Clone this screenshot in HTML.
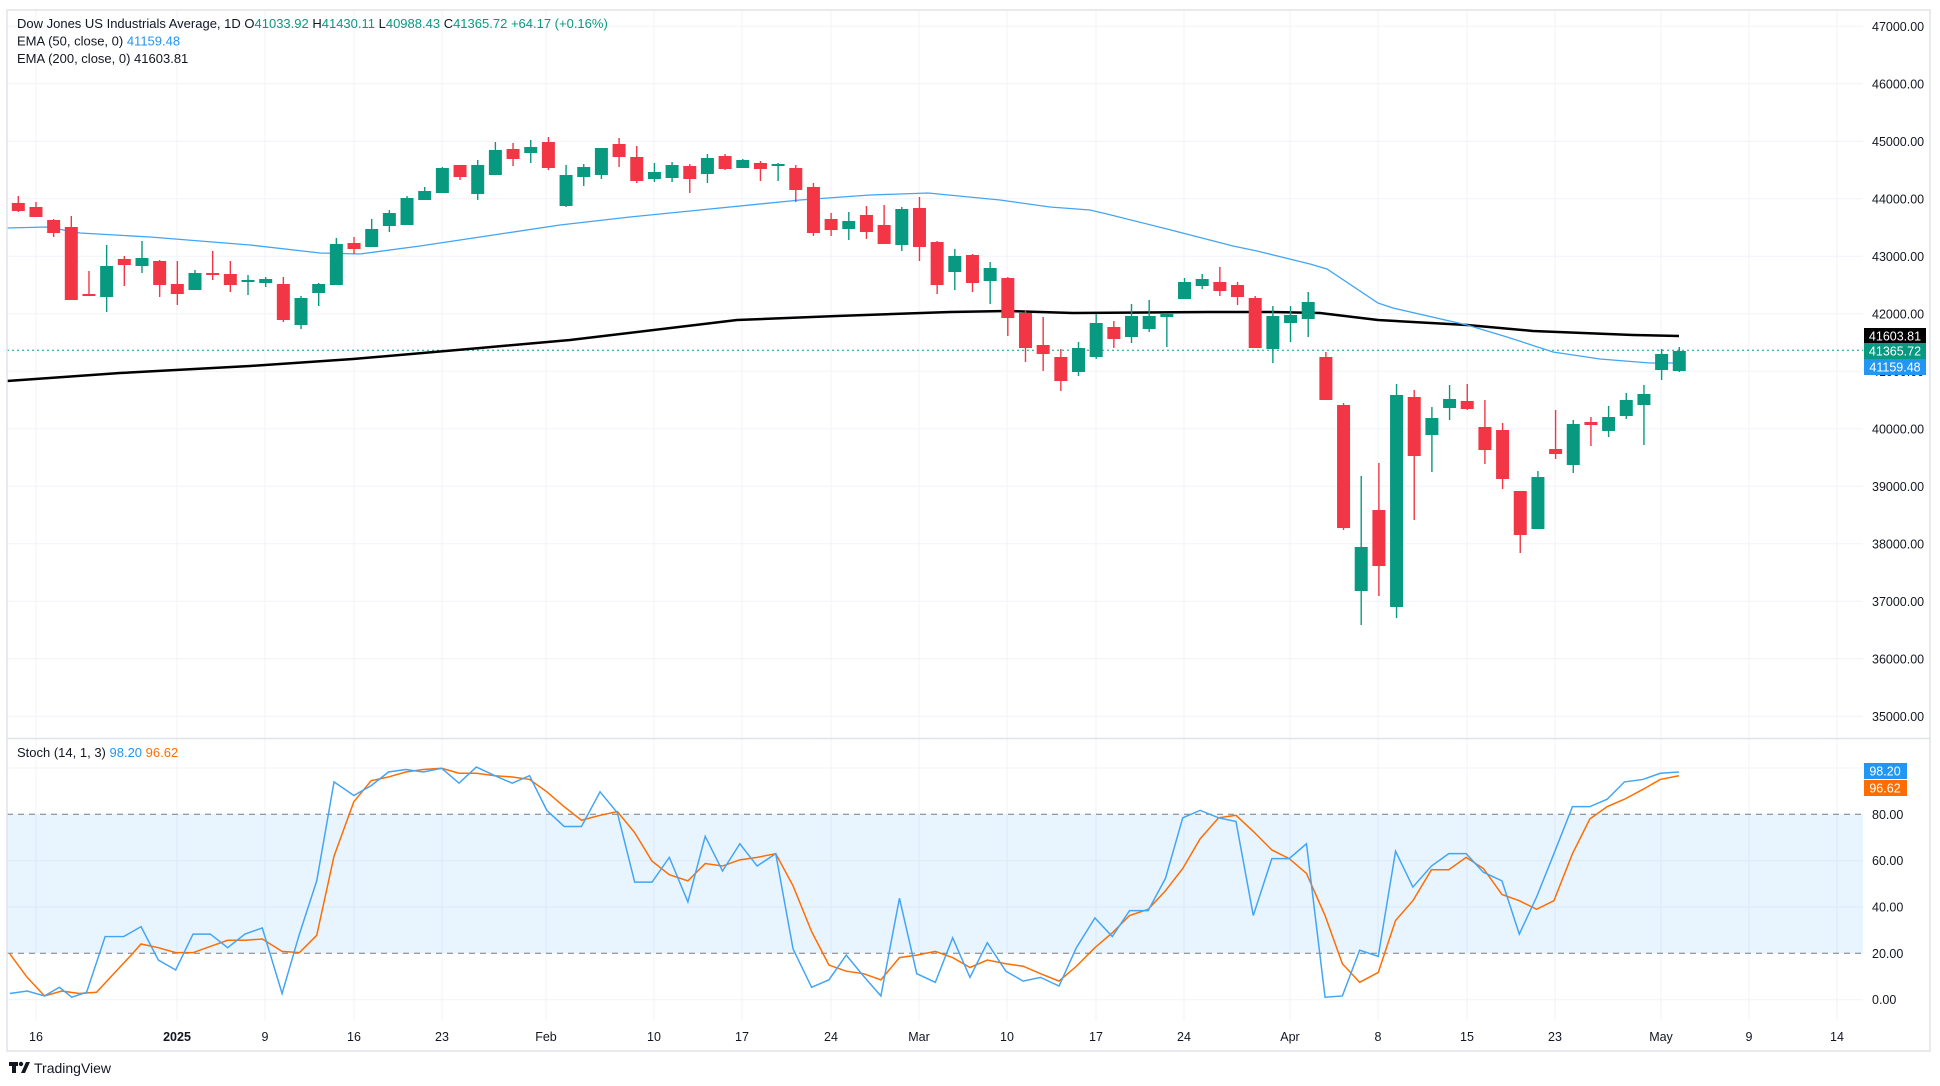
<!DOCTYPE html>
<html><head><meta charset="utf-8"><style>
html,body{margin:0;padding:0;background:#fff;}
svg{display:block;font-family:"Liberation Sans",sans-serif;}
</style></head><body>
<svg id="s" width="1940" height="1086" viewBox="0 0 1940 1086" xmlns="http://www.w3.org/2000/svg">
<rect width="1940" height="1086" fill="#fff"/>
<g id="grid"></g>
<rect x="7" y="814.3" width="1856" height="139" fill="#2196f3" fill-opacity="0.1"/>
<line x1="7" y1="814.3" x2="1863" y2="814.3" stroke="#787b86" stroke-dasharray="6,5" stroke-width="1"/>
<line x1="7" y1="953.3" x2="1863" y2="953.3" stroke="#787b86" stroke-dasharray="6,5" stroke-width="1"/>
<line x1="7" y1="350.3" x2="1863" y2="350.3" stroke="#089981" stroke-dasharray="2,3" stroke-width="1"/>
<polyline fill="none" stroke="#000" stroke-width="2.5" points="7,381 120,373 250,366 353,359 480,348 570,340 737,320 837,316 950,312 1007,311 1073,313 1207,312 1273,312 1320,313 1378,320 1467,325 1533,331 1633,335 1679,336"/>
<polyline fill="none" stroke="#42a5f5" stroke-width="1.3" points="7,228 47,227 80,233 150,237 250,245 320,253 360,254 420,246 480,237 560,225 630,217 700,210 800,200 870,195 928,193 1000,200 1050,207 1090,210 1107,214 1167,229 1233,246 1257,251 1310,264 1327,269 1378,303 1393,308 1467,325 1507,337 1553,352 1600,359 1650,363 1673,363"/>
<g id="candles"></g>
<g id="stoch" transform="scale(1.2372)"></g>
<g fill="none" stroke="#e0e3eb" stroke-width="1.5">
<rect x="7" y="10" width="1923" height="1041"/>
<line x1="7" y1="738.5" x2="1930" y2="738.5"/>
</g>
<g font-size="13" fill="#131722">
<text x="17" y="28">Dow Jones US Industrials Average, 1D  O<tspan fill="#089981">41033.92</tspan>  H<tspan fill="#089981">41430.11</tspan>  L<tspan fill="#089981">40988.43</tspan>  C<tspan fill="#089981">41365.72</tspan>  <tspan fill="#089981">+64.17 (+0.16%)</tspan></text>
<text x="17" y="45.5">EMA (50, close, 0)  <tspan fill="#2196f3">41159.48</tspan></text>
<text x="17" y="63">EMA (200, close, 0)  41603.81</text>
<text x="17" y="757">Stoch (14, 1, 3)  <tspan fill="#2196f3">98.20</tspan>  <tspan fill="#ff6d00">96.62</tspan></text>
</g>
<g id="axis" font-size="12.5" fill="#131722"></g>
<g font-size="12.5" fill="#fff">
<rect x="1864" y="328" width="62" height="16" fill="#000"/><text x="1895" y="340.5" text-anchor="middle">41603.81</text>
<rect x="1864" y="343" width="62" height="16" fill="#089981"/><text x="1895" y="355.5" text-anchor="middle">41365.72</text>
<rect x="1864" y="359" width="62" height="16" fill="#2196f3"/><text x="1895" y="371.5" text-anchor="middle">41159.48</text>
<rect x="1864" y="763" width="43" height="16" fill="#2196f3"/><text x="1885" y="775.5" text-anchor="middle">98.20</text>
<rect x="1864" y="780" width="43" height="16" fill="#ff6d00"/><text x="1885" y="792.5" text-anchor="middle">96.62</text>
</g>
<g fill="#131722"><rect x="9" y="1062" width="9" height="4"/><rect x="12" y="1062" width="4" height="11"/><circle cx="21" cy="1064" r="2.2"/><polygon points="21,1073 26,1062 30,1062 25,1073"/>
<text x="34" y="1073" font-size="14">TradingView</text></g>
</svg>
<script>
var NS="http://www.w3.org/2000/svg";
function el(p,t,a,txt){var e=document.createElementNS(NS,t);for(var k in a)e.setAttribute(k,a[k]);if(txt!=null)e.textContent=txt;document.getElementById(p).appendChild(e);return e;}
function yp(p){return 141.3+(45000-p)*0.0575;}
// horizontal grid main
for(var p=35000;p<=47000;p+=1000){var y=yp(p);el("grid","line",{x1:7,y1:y,x2:1863,y2:y,stroke:"#f0f3fa","stroke-width":1});el("axis","text",{x:1872,y:y+4.5},p+".00");}
// stoch grid
[100,60,40,0].forEach(function(v){var y=999.7-v*2.317;el("grid","line",{x1:7,y1:y,x2:1863,y2:y,stroke:"#f0f3fa","stroke-width":1});});
[80,60,40,20,0].forEach(function(v){var y=999.7-v*2.317;el("axis","text",{x:1872,y:y+4.5},v.toFixed(2));});
// vertical grid + time labels
var tl=[[36,"16"],[177,"2025"],[265,"9"],[354,"16"],[442,"23"],[546,"Feb"],[654,"10"],[742,"17"],[831,"24"],[919,"Mar"],[1007,"10"],[1096,"17"],[1184,"24"],[1290,"Apr"],[1378,"8"],[1467,"15"],[1555,"23"],[1661,"May"],[1749,"9"],[1837,"14"]];
tl.forEach(function(t){el("grid","line",{x1:t[0],y1:10,x2:t[0],y2:1021,stroke:"#f0f3fa","stroke-width":1});var a={x:t[0],y:1041,"text-anchor":"middle"};if(t[1]=="2025")a["font-weight"]="bold";el("axis","text",a,t[1]);});
var d="r 203 211 196 212|r 207 217 202 217|r 220 233 219 237|r 227 300 216 300|r 294 295 271 296|g 266 297 245 312|r 259 265 256 286|g 258 266 241 273|r 261 285 260 297|r 284 294 261 305|g 273 290 270 290|r 273 275 251 280|r 274 285 261 292|g 280 282 275 295|g 279 283 277 287|r 284 320 277 322|g 298 325 296 329|g 284 293 283 306|g 244 285 238 285|r 243 249 237 254|g 229 247 219 247|g 213 226 210 232|g 198 225 196 225|g 191 200 187 200|g 168 193 167 193|r 165 177 165 180|g 165 194 160 200|g 150 175 142 175|r 149 159 143 166|g 147 153 140 163|r 142 168 137 170|g 175 206 165 207|g 167 177 164 186|g 148 175 148 179|r 144 157 138 167|r 157 181 146 183|g 172 179 163 182|g 165 178 162 182|r 166 179 164 193|g 158 174 154 183|r 156 169 154 170|g 160 168 159 168|r 163 169 161 181|g 164 165 163 181|r 168 190 165 202|r 187 233 183 236|r 219 230 213 236|g 221 229 212 240|r 215 232 206 239|r 225 244 205 244|g 209 245 207 251|r 208 247 197 261|r 242 285 241 294|g 256 272 249 290|r 255 283 254 292|g 268 281 262 304|r 278 318 277 336|r 313 348 310 362|r 345 354 317 371|r 357 381 349 391|g 348 372 342 376|g 323 357 314 359|r 327 339 321 348|g 316 337 304 343|g 316 329 300 332|g 314 317 314 347|g 282 299 278 299|g 279 286 274 289|r 282 291 267 296|r 285 297 282 305|r 298 348 296 348|g 316 349 306 363|g 315 323 306 342|g 302 319 292 337|r 357 400 352 400|r 405 528 403 530|g 547 591 476 625|r 510 566 463 596|g 395 607 384 618|r 397 456 390 520|g 418 435 407 472|g 399 408 385 420|r 401 409 384 410|r 427 450 400 464|r 430 479 423 489|r 491 535 491 553|g 477 529 471 529|r 449 454 410 459|g 424 465 420 473|r 422 425 417 446|g 417 431 406 437|g 400 416 393 419|g 394 405 385 445|g 354 370 349 380|g 351 371 347 372".split("|");
d.forEach(function(s,i){var a=s.split(" ");var c=a[0]=="g"?"#089981":"#f23645";var x=18.3+17.67*i;var bt=+a[1],bb=+a[2];if(bb-bt<2)bb=bt+2;
el("candles","line",{x1:x,y1:a[3],x2:x,y2:a[4],stroke:c,"stroke-width":1.4});
el("candles","rect",{x:x-6.5,y:bt,width:13,height:bb-bt,fill:c});});
var k="8,803 22,801 36,805 48,798 58,806 70,802 85,757 100,757 114,749 128,776 142,784 156,755 170,755 184,766 198,755 212,750 228,803 242,755 256,712 270,632 286,643 300,635 314,624 328,622 342,624 357,621 371,633 385,620 400,627 414,633 428,627 442,655 456,668 470,668 485,640 499,657 513,713 527,713 541,693 556,729 570,676 584,704 598,682 612,700 627,690 641,767 656,798 670,792 684,772 698,789 712,805 727,726 741,787 756,794 770,758 784,790 798,762 813,785 827,793 841,790 856,797 870,766 885,742 899,757 913,736 928,736 942,710 956,661 970,655 985,661 999,664 1013,740 1028,694 1042,694 1056,682 1071,806 1085,805 1099,768 1114,773 1128,688 1142,717 1157,700 1171,690 1185,690 1199,705 1214,712 1228,755 1242,725 1256,690 1271,652 1285,652 1299,646 1313,632 1328,630 1342,625 1357,624";
var dd="8,771 22,790 36,805 50,801 64,803 78,802 92,787 106,772 114,763 128,766 142,770 156,770 170,765 184,760 198,760 212,759 228,769 242,770 256,756 270,692 286,648 300,631 314,628 328,624 342,622 357,621 371,625 385,625 400,627 414,628 428,630 442,640 456,652 470,663 485,659 499,656 513,673 527,696 541,707 556,712 570,698 584,700 598,695 612,693 627,690 641,716 656,753 670,780 684,785 698,787 712,792 727,774 741,772 756,769 770,774 784,782 798,776 813,779 827,781 841,787 856,793 870,781 885,766 899,754 913,740 928,735 942,720 956,702 970,678 985,661 999,659 1013,672 1028,687 1042,694 1056,706 1071,740 1085,779 1099,794 1114,786 1128,744 1142,728 1157,703 1171,703 1185,693 1199,702 1214,723 1228,728 1242,735 1256,728 1271,690 1285,662 1299,652 1313,646 1328,638 1342,630 1357,627";
el("stoch","polyline",{points:dd,fill:"none",stroke:"#ff6d00","stroke-width":1.2});
el("stoch","polyline",{points:k,fill:"none",stroke:"#42a5f5","stroke-width":1.2});
</script>
</body></html>
